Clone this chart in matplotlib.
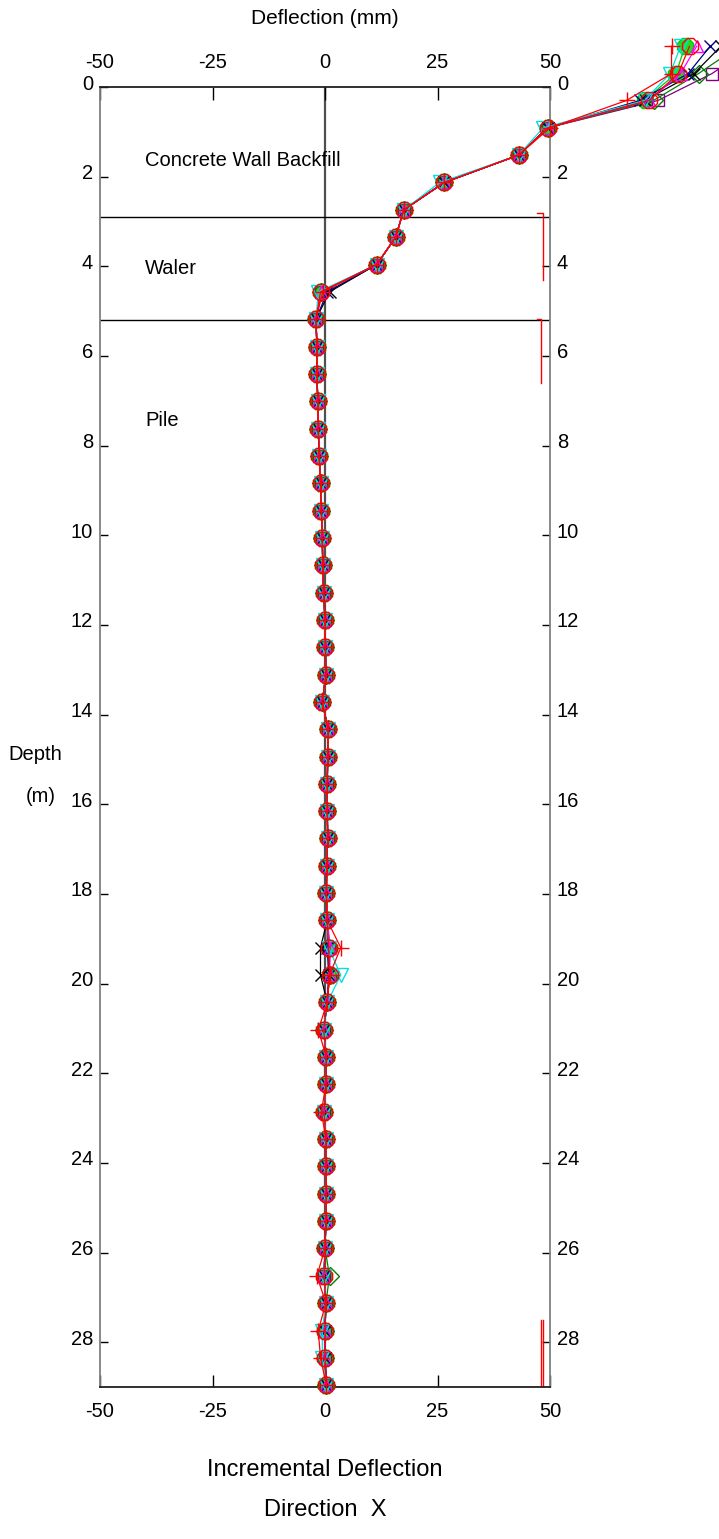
import matplotlib
matplotlib.use("Agg")
import matplotlib.pyplot as plt
import matplotlib.transforms as mtransforms

plt.rcParams['font.family'] = ['Liberation Sans', 'DejaVu Sans']

# ---------------- data ----------------
depths = [-0.91, -0.30, 0.30, 0.91, 1.52, 2.13, 2.74, 3.35, 3.96, 4.57,
          5.18, 5.79, 6.40, 7.01, 7.62, 8.23, 8.84, 9.45, 10.06, 10.67,
          11.28, 11.89, 12.50, 13.11, 13.72, 14.33, 14.94, 15.54, 16.15, 16.76,
          17.37, 17.98, 18.59, 19.20, 19.81, 20.42, 21.03, 21.64, 22.25, 22.86,
          23.47, 24.08, 24.69, 25.30, 25.91, 26.52, 27.13, 27.74, 28.35, 28.96]

s_purple = [95.0, 86.0, 74.0, 49.5, 43.0, 26.5, 17.5, 15.7, 11.5, -0.8,
            -2.0, -1.8, -1.8, -1.6, -1.5, -1.3, -1.0, -0.8, -0.6, -0.5,
            -0.3, 0.0, 0.1, 0.2, -0.6, 0.7, 0.6, 0.5, 0.5, 0.6,
            0.4, 0.3, 0.5, 0.8, 1.0, 0.5, -0.3, 0.3, 0.2, -0.2,
            0.2, 0.2, 0.3, 0.2, 0.0, -0.2, 0.2, 0.0, 0.0, 0.3]
s_darkgreen = [92.0, 83.0, 73.0, 49.5, 43.0, 26.5, 17.5, 15.7, 11.5, -0.8,
               -2.0, -1.8, -1.8, -1.6, -1.5, -1.3, -1.0, -0.8, -0.6, -0.5,
               -0.3, 0.0, 0.1, 0.2, -0.6, 0.7, 0.6, 0.5, 0.5, 0.6,
               0.4, 0.3, 0.5, 0.8, 1.0, 0.5, -0.3, 0.3, 0.2, -0.2,
               0.2, 0.2, 0.3, 0.2, 0.0, 1.0, 0.2, 0.0, 0.0, 0.3]
s_black = [88.0, 82.0, 71.0, 49.5, 43.0, 26.5, 17.5, 15.7, 11.5, 1.0,
           -2.0, -1.8, -1.8, -1.6, -1.5, -1.3, -1.0, -0.8, -0.6, -0.5,
           -0.3, 0.0, 0.1, 0.2, -0.6, 0.7, 0.6, 0.5, 0.5, 0.6,
           0.4, 0.3, 0.5, -1.0, -1.0, 0.5, -0.3, 0.3, 0.2, -0.2,
           0.2, 0.2, 0.3, 0.2, 0.0, -0.2, 0.2, 0.0, 0.0, 0.3]
s_navy = [85.6, 80.7, 70.0, 49.5, 43.0, 26.5, 17.5, 15.7, 11.5, 0.5,
          -2.0, -1.8, -1.8, -1.6, -1.5, -1.3, -1.0, -0.8, -0.6, -0.5,
          -0.3, 0.0, 0.1, 0.2, -0.6, 0.7, 0.6, 0.5, 0.5, 0.6,
          0.4, 0.3, 0.5, 0.5, 0.8, 0.5, -0.3, 0.3, 0.2, -0.2,
          0.2, 0.2, 0.3, 0.2, 0.0, -0.2, 0.2, 0.0, 0.0, 0.3]
s_magenta = [82.6, 79.0, 72.0, 49.5, 43.0, 26.5, 17.5, 15.7, 11.5, -0.8,
             -2.0, -1.8, -1.8, -1.6, -1.5, -1.3, -1.0, -0.8, -0.6, -0.5,
             -0.3, 0.0, 0.1, 0.2, -0.6, 0.7, 0.6, 0.5, 0.5, 0.6,
             0.4, 0.3, 0.5, 1.2, 1.0, 0.5, -0.3, 0.3, 0.2, -0.2,
             0.2, 0.2, 0.3, 0.2, 0.0, -0.2, 0.2, 0.0, 0.0, 0.3]
s_cyan = [79.0, 76.7, 71.0, 48.5, 43.0, 25.5, 17.5, 15.7, 11.5, -1.5,
          -2.0, -1.8, -1.8, -1.6, -1.5, -1.3, -1.0, -0.8, -0.6, -0.5,
          -0.3, 0.0, 0.1, 0.2, -0.6, 0.7, 0.6, 0.5, 0.5, 0.6,
          0.4, 0.3, 0.5, 0.8, 3.5, 0.5, -0.3, 0.3, 0.2, -0.2,
          0.2, 0.2, 0.3, 0.2, 0.0, -0.2, 0.2, -0.6, -0.6, 0.3]
s_lime = [80.0, 78.0, 71.0, 49.5, 43.0, 26.5, 17.5, 15.7, 11.5, -0.8,
          -2.0, -1.8, -1.8, -1.6, -1.5, -1.3, -1.0, -0.8, -0.6, -0.5,
          -0.3, 0.0, 0.1, 0.2, -0.6, 0.7, 0.6, 0.5, 0.5, 0.6,
          0.4, 0.3, 0.5, 0.8, 1.0, 0.5, -0.3, 0.3, 0.2, -0.2,
          0.2, 0.2, 0.3, 0.2, 0.0, -0.2, 0.2, 0.0, 0.0, 0.3]
s_redplus = [77.0, 77.0, 67.0, 50.0, 43.0, 26.5, 17.5, 15.7, 11.5, -0.5,
             -2.0, -1.8, -1.8, -1.6, -1.5, -1.3, -1.0, -0.8, -0.6, -0.5,
             -0.3, 0.0, 0.1, 0.2, -0.6, 0.7, 0.6, 0.5, 0.5, 0.6,
             0.4, 0.3, 0.5, 3.5, 1.0, 0.5, -1.5, 0.3, 0.2, -0.8,
             0.2, 0.2, 0.3, 0.2, 0.0, -1.8, 0.2, -1.5, -1.0, 0.3]
s_redoct = [81.0, 78.5, 72.0, 49.5, 43.0, 26.5, 17.5, 15.7, 11.5, -1.0,
            -2.0, -1.8, -1.8, -1.6, -1.5, -1.3, -1.0, -0.8, -0.6, -0.5,
            -0.3, 0.0, 0.1, 0.2, -0.6, 0.7, 0.6, 0.5, 0.5, 0.6,
            0.4, 0.3, 0.5, 0.8, 1.0, 0.5, -0.3, 0.3, 0.2, -0.2,
            0.2, 0.2, 0.3, 0.2, 0.0, -0.2, 0.2, 0.0, 0.0, 0.3]

# (values, colour, marker, size, face)
series = [
    (s_lime, '#00cc00', '8', 12, '#22dd22'),
    (s_purple, '#800080', 's', 9, 'none'),
    (s_darkgreen, '#008000', 'D', 9, 'none'),
    (s_black, '#000000', 'x', 8, 'none'),
    (s_navy, '#000080', 'x', 8, 'none'),
    (s_magenta, '#ff00ff', '^', 9, 'none'),
    (s_cyan, '#00e0e0', 'v', 10, 'none'),
    (s_redplus, '#ff0000', '+', 11, 'none'),
    (s_redoct, '#ff0000', '8', 13, 'none'),
]

xticks = [-50, -25, 0, 25, 50]
yticks = [0, 2, 4, 6, 8, 10, 12, 14, 16, 18, 20, 22, 24, 26, 28]
zone_bounds = [2.9, 5.2]
zone_labels = ['Concrete Wall Backfill', 'Waler', 'Pile']
zone_label_depths = [1.63, 4.04, 7.43]

bracket_x = [[47.1, 48.4, 48.4], [47.1, 48.0, 48.0], [47.9, 47.9], [48.4, 48.4], [47.1, 48.6]]
bracket_y = [[2.80, 2.80, 4.30], [5.18, 5.18, 6.60], [27.5, 29.0], [27.5, 29.0], [29.0, 29.0]]

# ---------------- figure ----------------
fig = plt.figure(figsize=(7.19, 15.39), dpi=100)
ax = fig.add_axes([100 / 719, 1 - 1387 / 1539, 450 / 719, 1300 / 1539])
ax.set_xlim(-50, 50)
ax.set_ylim(29, 0)

ax.axvline(0, color='#505050', lw=1.6, zorder=1)
for b in zone_bounds:
    ax.axhline(b, color='black', lw=1.0, zorder=1)

for bx, by in zip(bracket_x, bracket_y):
    ax.plot(bx, by, color='#ff0000', lw=1.0, zorder=2)

for vals, col, mk, ms, face in series:
    ax.plot(vals, depths, color=col, lw=0.9, marker=mk, ms=ms,
            markerfacecolor=face, markeredgecolor=col, markeredgewidth=1.0,
            clip_on=False, zorder=3)

for lab, d in zip(zone_labels, zone_label_depths):
    ax.text(-40, d, lab, fontsize=14.5, ha='left', va='center')

ax.set_xticks(xticks)
ax.set_yticks(yticks)
ax.set_xticklabels([str(v) for v in xticks])
ax.set_yticklabels([str(v) for v in yticks])
ax.tick_params(axis='x', direction='in', length=9, width=1, top=True, bottom=True,
               labeltop=True, labelbottom=True, labelsize=14.5, pad=11)
ax.tick_params(axis='y', direction='in', length=6, width=1, left=True, right=True,
               labelleft=True, labelright=True, labelsize=14.5, pad=5)

off = mtransforms.ScaledTranslation(0, 5 / 100, fig.dpi_scale_trans)
for tick in ax.yaxis.get_major_ticks():
    tick.label1.set_transform(tick.label1.get_transform() + off)
    tick.label2.set_transform(tick.label2.get_transform() + off)

ax.spines['left'].set_color('#808080')
ax.spines['right'].set_color('#808080')
ax.spines['top'].set_color('#202020')
ax.spines['bottom'].set_color('#202020')
for sp in ax.spines.values():
    sp.set_linewidth(1.3)

fig.text(325 / 719, 1 - 18 / 1539, 'Deflection (mm)', fontsize=15, ha='center', va='center')
fig.text(35 / 719, 1 - 755 / 1539, 'Depth', fontsize=14.5, ha='center', va='center')
fig.text(41 / 719, 1 - 797 / 1539, '(m)', fontsize=14.5, ha='center', va='center')
fig.text(325 / 719, 1 - 1470 / 1539, 'Incremental Deflection', fontsize=17, ha='center', va='center')
fig.text(325 / 719, 1 - 1510 / 1539, 'Direction  X', fontsize=17, ha='center', va='center')

fig.savefig('out.png', dpi=100)
